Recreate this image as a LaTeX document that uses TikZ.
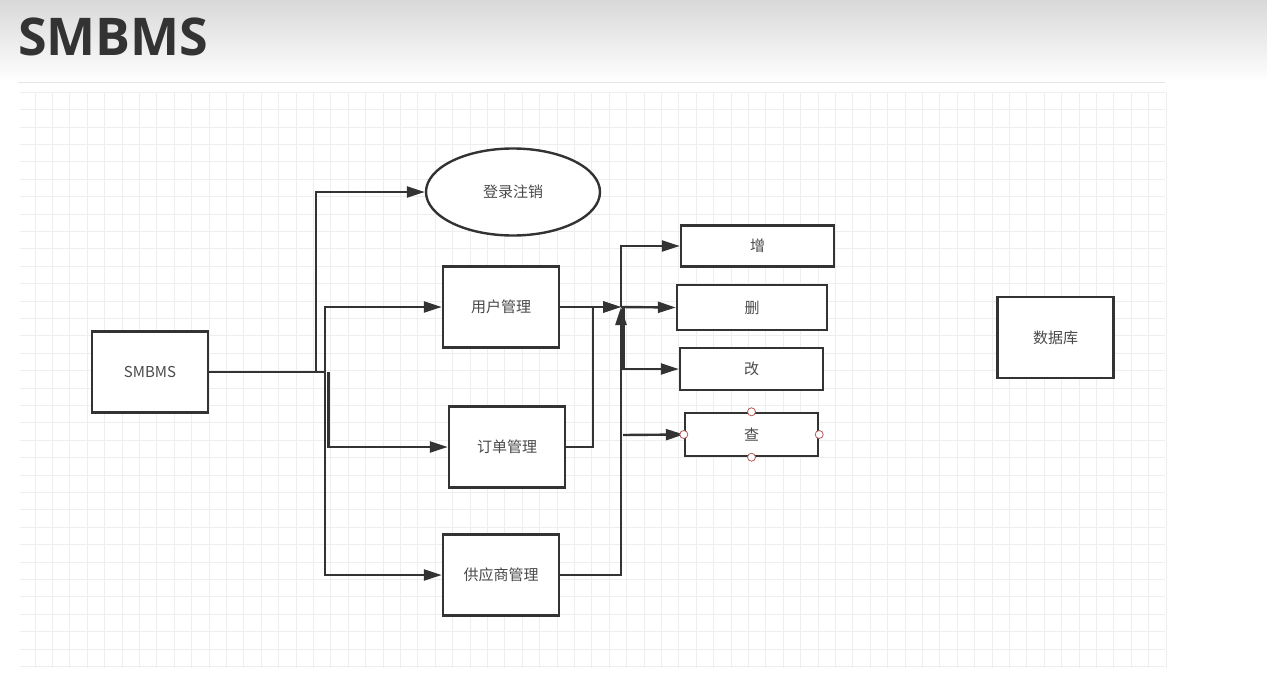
\documentclass[tikz,border=0pt]{standalone}
\usepackage{fontspec}
\usepackage{tikz}
\usetikzlibrary{arrows.meta, shapes.geometric, positioning}
\newfontfamily\cjk{Noto Sans CJK SC}
\newfontfamily\titlefont{Open Sans}
\definecolor{boxline}{HTML}{333333}
\definecolor{txtgray}{HTML}{4A4A4A}
\definecolor{gridgray}{HTML}{EEEEEE}
\definecolor{handle}{HTML}{B05A5A}

\begin{document}
\begin{tikzpicture}[
    x=1pt, y=-1pt,
    box/.style={rectangle, draw=boxline, line width=2.4pt, fill=white, minimum width=116pt, minimum height=81pt, inner sep=0pt, text=txtgray, font=\cjk\fontsize{15}{18}\selectfont},
    crud/.style={box, minimum height=41pt},
    oval/.style={box, ellipse, minimum width=174pt, minimum height=87pt},
    arrow/.style={-{Triangle[length=18pt, width=11pt]}, line width=2.4pt, draw=boxline},
    grip/.style={circle, draw=handle, fill=white, line width=0.8pt, minimum size=8pt, inner sep=0pt}
]
\useasboundingbox (0,0) rectangle (1267,688);
% page head
\shade[top color=black!15, bottom color=white] (0,0) rectangle (1267,82);
\fill[white] (0,82) rectangle (1267,688);
\node[anchor=base west, inner sep=0pt, text=boxline, font=\titlefont\bfseries\fontsize{52}{60}\selectfont] (title) at (18,55) {SMBMS};
\draw[black!10, line width=1pt] (18,82) -- (1165,82);
% grid
\foreach \gx in {0,...,65} \draw[gridgray, line width=0.9pt] (35+17.4*\gx,92) -- (35+17.4*\gx,668);
\foreach \gy in {0,...,33} \draw[gridgray, line width=0.9pt] (20,92.2+17.4*\gy) -- (1165,92.2+17.4*\gy);

% nodes
\node[box] (sys) at (150,372) {SMBMS};
\node[oval] (login) at (513,192) {登录注销};
\node[box] (user) at (501,307) {用户管理};
\node[box] (order) at (507,447) {订单管理};
\node[box] (supplier) at (501,575) {供应商管理};
\node[crud, minimum width=153pt] (add) at (757.5,246) {增};
\node[crud, minimum width=150pt, minimum height=45pt] (del) at (752,307.5) {删};
\node[crud, minimum width=143pt, minimum height=42pt] (mod) at (751.5,369) {改};
\node[crud, minimum width=133pt, minimum height=43pt] (qry) at (751.5,434.5) {查};
\node[box] (db) at (1055.5,337.5) {数据库};

% bends
\coordinate (split) at (316,372);
\coordinate (branch) at (325,372);
\coordinate (branchB) at (328.5,372);
\coordinate (hub) at (621,307);
\coordinate (ordUp) at (593,307);
\coordinate (modSplit) at (623.5,307);
\coordinate (qrySplit) at (623,435);

% left connectors
\draw[arrow] (sys.east) -- (split) |- (login.west);
\draw[arrow] (sys.east) -- (branch) |- (user.west);
\draw[arrow] (branchB) |- (order.west);
\draw[arrow] (branch) |- (supplier.west);

% right connectors
\draw[arrow] (user.east) -- (hub);
\draw[arrow] (order.east) -| (ordUp) -- (hub);
\draw[arrow] (supplier.east) -| (hub);
\draw[arrow] (hub) |- (add.west);
\draw[arrow] (hub) -- (del.west);
\draw[arrow] (modSplit) |- (mod.west);
\draw[arrow] (qrySplit) -- (qry.west);

% selection handles
\foreach \side in {north, south, east, west} \node[grip] at (qry.\side) {};
\end{tikzpicture}
\end{document}
